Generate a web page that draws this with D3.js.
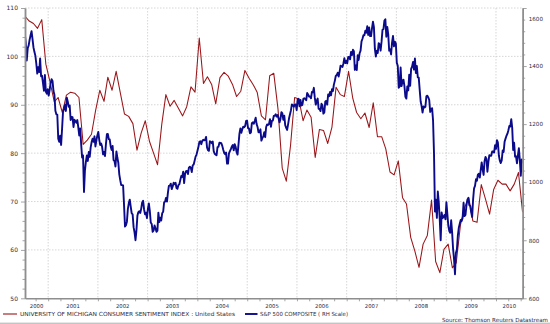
<!DOCTYPE html>
<html><head><meta charset="utf-8">
<script src="https://cdn.jsdelivr.net/npm/d3@7"></script>
<style>
html,body{margin:0;padding:0;background:#fff;}
svg{display:block;font-family:"DejaVu Sans",Verdana,sans-serif;}
</style></head>
<body>
<svg id="chart" width="550" height="324"></svg>
<script>
// ---- Data ----
// University of Michigan Consumer Sentiment (monthly), first array starts Jul 2000
const umich2000 = [108.3,107.3,106.8,105.8,107.6,98.4];
const umich2001 = [94.7,90.6,91.5,88.4,92.0,92.6,92.4,91.5,81.8,82.7,83.9,88.8];
const umich2002 = [93.0,90.7,95.7,93.0,96.9,92.4,88.1,87.6,86.1,80.6,84.2,86.7];
const umich2003 = [82.4,79.9,77.6,86.0,92.1,89.7,90.9,89.3,87.7,89.6,93.7,92.6];
const umich2004 = [103.8,94.4,95.8,94.2,90.2,95.6,96.7,95.9,94.2,91.7,92.8,97.1];
const umich2005 = [95.5,94.1,92.6,87.7,86.9,96.0,96.5,89.1,76.9,74.2,81.6,91.5];
const umich2006 = [91.2,86.7,88.9,87.4,79.1,84.9,84.7,82.0,85.4,93.6,92.1,91.7];
const umich2007 = [96.9,91.3,88.4,87.1,88.3,85.3,90.4,83.4,83.4,80.9,76.1,75.5];
const umich2008 = [78.4,70.8,69.5,62.6,59.8,56.4,61.2,63.0,70.3,57.6,55.3,60.1];
const umich2009 = [61.2,56.3,57.3,65.1,68.7,70.8,66.0,65.7,73.5,70.6,67.4,72.5];
const umich2010 = [74.4,73.6,73.6,72.2,73.6,76.0,67.8];
const umichStarts = [[2000,6],[2001,0],[2002,0],[2003,0],[2004,0],[2005,0],[2006,0],[2007,0],[2008,0],[2009,0],[2010,0]];

// S&P 500 Composite (weekly closes), each array with its first week's date
const spx2000 = [1509,1480,1419,1462,1471,1491,1506,1520,1494,1465,1449,1436,1408,1374,1396,1379,1426,1365,1367,1341,1315,1369,1312,1305,1320];
const spx2001 = [1298,1318,1342,1355,1349,1314,1301,1246,1234,1233,1150,1139,1160,1128,1183,1242,1253,1266,1245,1291,1277,1260,1264,1214,1225,1224,1190,1215,1210,1205,1214,1190,1161,1185,1133,1085,1092,966,1041,1071,1092,1073,1104,1087,1120,1138,1150,1139,1158,1123,1144,1161];
const spx2002 = [1173,1146,1128,1133,1122,1096,1104,1090,1131,1165,1166,1148,1147,1123,1111,1125,1076,1073,1054,1106,1084,1067,1027,1007,990,990,989,921,847,852,864,908,928,940,916,893,889,845,827,800,835,884,897,900,894,909,930,936,906,889,895,876];
const spx2003 = [908,927,901,861,856,829,834,851,841,829,833,895,863,878,868,893,898,930,933,946,933,964,987,988,995,976,985,998,993,998,980,977,990,993,1008,1021,1018,1036,997,1029,1038,1039,1028,1050,1053,1050,1035,1058,1061,1074,1088,1095];
const spx2004 = [1108,1122,1139,1141,1131,1142,1146,1144,1145,1156,1120,1110,1108,1141,1139,1134,1140,1107,1098,1095,1093,1121,1122,1136,1135,1134,1125,1112,1101,1096,1102,1064,1064,1099,1107,1114,1123,1128,1110,1131,1122,1104,1095,1130,1167,1185,1170,1183,1191,1189,1194,1211,1212];
const spx2005 = [1186,1185,1168,1171,1203,1206,1201,1211,1222,1200,1190,1172,1172,1182,1143,1152,1157,1172,1155,1190,1199,1197,1201,1217,1191,1211,1212,1228,1229,1234,1226,1231,1220,1206,1218,1241,1237,1215,1229,1196,1187,1180,1199,1220,1234,1248,1268,1265,1260,1267,1268,1248];
const spx2006 = [1285,1287,1261,1283,1264,1266,1287,1289,1287,1282,1307,1302,1295,1295,1289,1311,1310,1325,1291,1267,1280,1288,1253,1252,1245,1270,1265,1236,1240,1278,1280,1267,1302,1296,1311,1299,1320,1314,1336,1349,1366,1369,1377,1364,1380,1401,1400,1397,1409,1427,1410,1418];
const spx2007 = [1409,1431,1431,1423,1449,1438,1456,1451,1387,1402,1386,1437,1421,1444,1453,1485,1494,1506,1506,1522,1515,1537,1507,1533,1503,1503,1531,1553,1534,1459,1433,1453,1445,1479,1474,1453,1484,1525,1527,1557,1561,1501,1535,1509,1453,1458,1440,1481,1504,1468,1484,1478];
const spx2008 = [1411,1401,1325,1330,1395,1331,1349,1353,1331,1294,1288,1330,1316,1370,1332,1390,1398,1414,1388,1426,1376,1400,1361,1360,1318,1278,1262,1240,1261,1257,1260,1296,1298,1292,1283,1242,1252,1255,1213,1099,899,940,877,968,930,873,800,896,876,880,887,872];
const spx2009 = [931,890,850,832,826,869,827,770,735,683,757,768,816,843,857,870,866,877,929,883,887,919,940,946,921,918,896,880,941,979,987,1010,1005,1026,1029,1016,1042,1068,1044,1025,1072,1087,1080,1036,1069,1093,1091,1091,1106,1106,1102,1127,1115];
const spx2010 = [1145,1136,1092,1074,1066,1075,1109,1104,1139,1150,1160,1167,1179,1194,1192,1217,1187,1111,1136,1088,1089,1065,1092,1117,1076,1022,1078,1065];
const spxStarts = ["2000-07-14","2001-01-05","2002-01-04","2003-01-03","2004-01-02","2005-01-07","2006-01-06","2007-01-05","2008-01-04","2009-01-02","2010-01-08"];

const leftTicks = [50,60,70,80,90,100,110];
const rightTicks = [600,800,1000,1200,1400,1600];
const yearLabels = ["2000","2001","2002","2003","2004","2005","2006","2007","2008","2009","2010"];
const legendLabels = ["UNIVERSITY OF MICHIGAN CONSUMER SENTIMENT INDEX : United States","S&P 500 COMPOSITE ( RH Scale)"];
const sourceText = "Source: Thomson Reuters Datastream";

// ---- Build series ----
const umichArrays = [umich2000,umich2001,umich2002,umich2003,umich2004,umich2005,umich2006,umich2007,umich2008,umich2009,umich2010];
const umich = [];
umichArrays.forEach((arr,i)=>{
  const [yr,m0] = umichStarts[i];
  arr.forEach((v,j)=>umich.push({date:new Date(yr,m0+j,15), value:v}));
});
const spxArrays = [spx2000,spx2001,spx2002,spx2003,spx2004,spx2005,spx2006,spx2007,spx2008,spx2009,spx2010];
const spx = [];
spxArrays.forEach((arr,i)=>{
  const p = spxStarts[i].split("-").map(Number);
  arr.forEach((v,j)=>spx.push({date:new Date(p[0],p[1]-1,p[2]+7*j), value:v}));
});

// ---- Scales ----
const L=25, R=522.7, T=8, B=298.3;
const x = d3.scaleTime().domain([new Date(2000,6,15), new Date(2010,6,16)]).range([L,R]);
const yL = d3.scaleLinear().domain([50,110]).range([B,T]);
const yR = d3.scaleLinear().domain([600,1600]).range([B,T]);

const svg = d3.select("#chart");
const textColor = "#2a2a40";
const axisColor = "#8e8e8e";

// gridlines
const grid = svg.append("g");
grid.selectAll("line.h").data(leftTicks.filter(d=>d>50)).enter().append("line")
  .attr("x1",L).attr("x2",R).attr("y1",d=>yL(d)).attr("y2",d=>yL(d))
  .attr("stroke","#cccccc").attr("stroke-width",0.8).attr("stroke-dasharray","1.5,1.5");
const yearStarts = d3.range(2001,2011).map(y=>new Date(y,0,1));
grid.selectAll("line.v").data(yearStarts).enter().append("line")
  .attr("x1",d=>x(d)).attr("x2",d=>x(d)).attr("y1",T).attr("y2",B)
  .attr("stroke","#cccccc").attr("stroke-width",0.8).attr("stroke-dasharray","1.5,1.5");

// lines
svg.append("clipPath").attr("id","clip").append("rect")
  .attr("x",L).attr("y",T-2).attr("width",R-L).attr("height",B-T+4);
svg.append("path").datum(umich)
  .attr("clip-path","url(#clip)")
  .attr("fill","none").attr("stroke","#9a1418").attr("stroke-width",1.05).attr("stroke-linejoin","round")
  .attr("d", d3.line().x(d=>x(d.date)).y(d=>yL(d.value)));
svg.append("path").datum(spx)
  .attr("clip-path","url(#clip)")
  .attr("fill","none").attr("stroke","#0a0a8a").attr("stroke-width",1.9).attr("stroke-linejoin","round")
  .attr("d", d3.line().x(d=>x(d.date)).y(d=>yR(d.value)));

// axes
function styleAxis(g){
  g.selectAll("path.domain").attr("stroke",axisColor).attr("stroke-width",1.5);
  g.selectAll(".tick line").attr("stroke",axisColor).attr("stroke-width",0.8);
  g.selectAll("text").attr("fill",textColor).attr("font-size",6).attr("font-family","DejaVu Sans, Verdana, sans-serif");
}
const minorL = d3.range(50,110,2).filter(v=>v%10!==0);
svg.append("g").attr("transform",`translate(${L},0)`)
  .call(d3.axisLeft(yL).tickValues(minorL).tickSize(2.5).tickFormat("").tickSizeOuter(0)).call(styleAxis);
svg.append("g").attr("transform",`translate(${L},0)`)
  .call(d3.axisLeft(yL).tickValues(leftTicks).tickSize(4).tickPadding(3).tickSizeOuter(0)).call(styleAxis);

const minorR = d3.range(600,1600,40).filter(v=>v%200!==0);
svg.append("g").attr("transform",`translate(${R},0)`)
  .call(d3.axisRight(yR).tickValues(minorR).tickSize(2.5).tickFormat("").tickSizeOuter(0)).call(styleAxis);
const gR = svg.append("g").attr("transform",`translate(${R},0)`)
  .call(d3.axisRight(yR).tickValues(rightTicks).tickSize(4).tickPadding(2).tickFormat(d3.format("d")).tickSizeOuter(0)).call(styleAxis);
gR.selectAll(".tick text").attr("font-size",5.6);
gR.selectAll(".tick text").filter(d=>d===1600).attr("y",11);

const quarters = d3.timeMonth.every(3).range(new Date(2000,6,1), new Date(2010,6,16)).filter(d=>x(d)>L+1);
svg.append("g").attr("transform",`translate(0,${B})`)
  .call(d3.axisBottom(x).tickValues(quarters).tickSize(3).tickFormat("").tickSizeOuter(0)).call(styleAxis);

// year labels centered in visible portion of each year
svg.append("g").selectAll("text").data(yearLabels).enter().append("text")
  .attr("x",d=>{
    const y=+d;
    const a=Math.max(x(new Date(y,0,1)),L), b=Math.min(x(new Date(y+1,0,1)),R);
    return (a+b)/2;
  })
  .attr("y",308).attr("text-anchor","middle").attr("font-size",5.3).attr("fill",textColor).text(d=>d);

// legend
const leg = svg.append("g");
leg.append("line").attr("x1",3).attr("x2",17).attr("y1",314).attr("y2",314).attr("stroke","#9a1418").attr("stroke-width",1.1);
leg.append("text").attr("x",20).attr("y",316.2).attr("font-size",5.6).attr("fill",textColor)
  .attr("textLength",215).attr("lengthAdjust","spacingAndGlyphs").text(legendLabels[0]);
leg.append("line").attr("x1",245).attr("x2",257.5).attr("y1",314).attr("y2",314).attr("stroke","#0a0a8a").attr("stroke-width",1.9);
leg.append("text").attr("x",260).attr("y",316.2).attr("font-size",5.6).attr("fill",textColor)
  .attr("textLength",88).attr("lengthAdjust","spacingAndGlyphs").text(legendLabels[1]);

svg.append("text").attr("x",442).attr("y",321.5).attr("font-size",5.6).attr("fill",textColor)
  .attr("textLength",106).attr("lengthAdjust","spacingAndGlyphs").text(sourceText);

svg.append("rect").attr("x",0).attr("y",322.6).attr("width",550).attr("height",1.4).attr("fill","#c4c4c4");
</script>
</body></html>
